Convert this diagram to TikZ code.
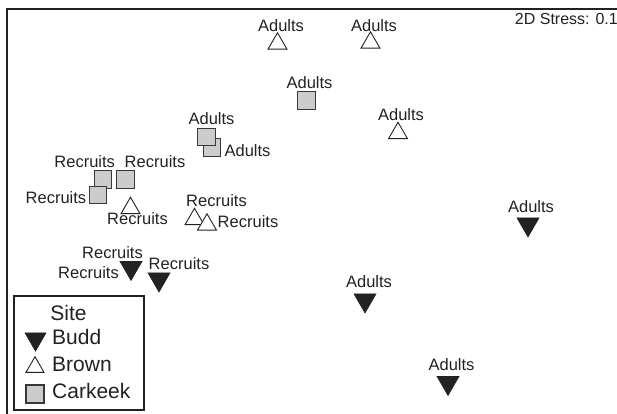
\documentclass[tikz,border=0pt]{standalone}
\usepackage{fontspec}
\setmainfont{Liberation Sans}
\usetikzlibrary{shapes.geometric}
\definecolor{ink}{HTML}{222222}
\definecolor{boxfill}{HTML}{CCCCCC}
\tikzset{
  lbl/.style={inner sep=0pt, text=ink, font=\fontsize{16.5}{18}\selectfont},
  leg/.style={inner sep=0pt, anchor=west, text=ink, font=\fontsize{21}{24}\selectfont},
  brown/.style={regular polygon, regular polygon sides=3, minimum size=21.9pt, inner sep=0pt, draw=ink, fill=white, line width=0.9pt},
  budd/.style={regular polygon, regular polygon sides=3, shape border rotate=180, minimum size=25.4pt, inner sep=0pt, draw=ink, fill=ink, line width=0.6pt},
  carkeek/.style={rectangle, minimum size=17.5pt, inner sep=0pt, draw=ink!90, fill=boxfill, line width=1.1pt},
}
\begin{document}
\begin{tikzpicture}[x=1pt,y=-1pt]
\useasboundingbox (0,0) rectangle (617,414);
% frame
\coordinate (fr1) at (618,9);
\coordinate (fr2) at (7,9);
\coordinate (fr3) at (7,415);
\draw[ink, line width=2pt] (fr1) -- (fr2) -- (fr3);
\node[lbl, anchor=east, font=\fontsize{16}{18}\selectfont] (stress) at (618,19) {2D Stress: 0.1};

% Brown (open up triangles)
\node[brown] (b1) at (277.5,43.7) {};
\node[brown] (b2) at (370.5,42.7) {};
\node[brown] (b3) at (398,133.2) {};
\node[brown] (b4) at (130.5,208.2) {};
\node[brown] (b5) at (194.5,219.2) {};
\node[brown] (b6) at (207,224.7) {};

% Carkeek squares
\node[carkeek] (c1) at (306.5,100.5) {};
\node[carkeek] (c3) at (212,147.5) {};
\node[carkeek] (c2) at (206.5,137) {};
\node[carkeek] (c4) at (103,179.5) {};
\node[carkeek] (c5) at (125.5,179.5) {};
\node[carkeek] (c6) at (98,195) {};

% Budd (filled down triangles)
\node[budd] (d1) at (131,267.8) {};
\node[budd] (d2) at (159,279.3) {};
\node[budd] (d3) at (528,224.3) {};
\node[budd] (d4) at (365,300.3) {};
\node[budd] (d5) at (448,382.8) {};

% Labels
\node[lbl] (la1) at (281,26) {Adults};
\node[lbl] (la2) at (374,26) {Adults};
\node[lbl] (la3) at (309.5,82.5) {Adults};
\node[lbl] (la4) at (401,115) {Adults};
\node[lbl] (la5) at (211.5,119) {Adults};
\node[lbl] (la6) at (247.5,150.5) {Adults};
\node[lbl] (la7) at (531,207) {Adults};
\node[lbl] (la8) at (369,281.5) {Adults};
\node[lbl] (la9) at (451.5,365) {Adults};

\node[lbl] (lr1) at (84.7,161.5) {Recruits};
\node[lbl] (lr2) at (155,161.5) {Recruits};
\node[lbl] (lr3) at (56,197.5) {Recruits};
\node[lbl] (lr4) at (137.5,219) {Recruits};
\node[lbl] (lr5) at (216.5,201) {Recruits};
\node[lbl] (lr6) at (248,221.5) {Recruits};
\node[lbl] (lr7) at (112.5,252.5) {Recruits};
\node[lbl] (lr8) at (88.5,272.5) {Recruits};
\node[lbl] (lr9) at (179,263.5) {Recruits};

% Legend
\node[draw=ink, line width=1.5pt, fill=white, minimum width=130pt, minimum height=114pt, inner sep=0pt, anchor=north west] (legend) at (13,295) {};
\node[leg, anchor=center] (lsite) at (68.5,312.5) {Site};
\node[budd, minimum size=24.2pt] (lgbudd) at (35.5,339) {};
\node[leg] (ltbudd) at (52,336.5) {Budd};
\node[brown, minimum size=20.8pt] (lgbrown) at (35,367.1) {};
\node[leg] (ltbrown) at (52,364.5) {Brown};
\node[carkeek, minimum size=18pt] (lgcar) at (35,394) {};
\node[leg] (ltcar) at (52,391) {Carkeek};
\end{tikzpicture}
\end{document}
